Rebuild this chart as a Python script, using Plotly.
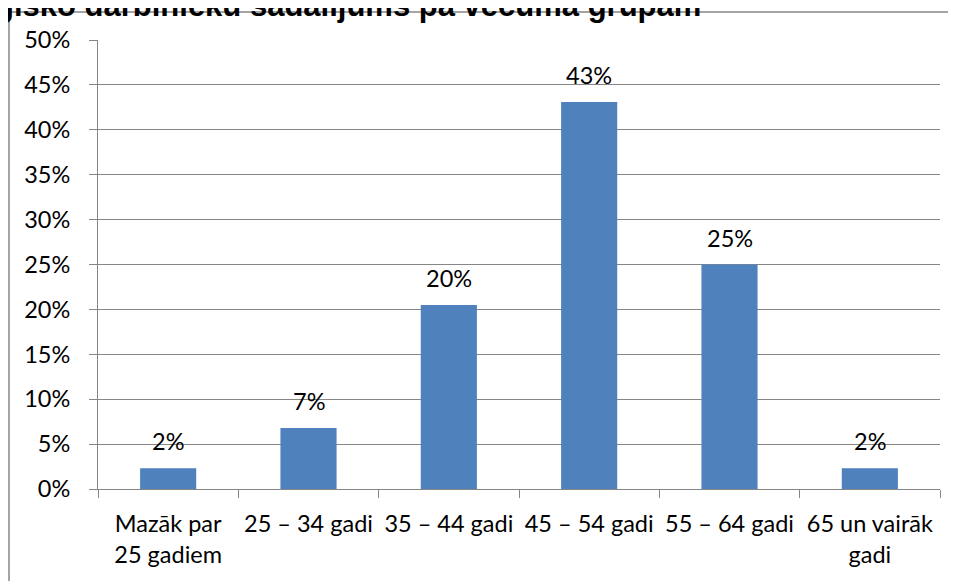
import plotly.graph_objects as go

# --- data ---
categories = [
    "Mazāk par<br>25 gadiem",
    "25 – 34 gadi",
    "35 – 44 gadi",
    "45 – 54 gadi",
    "55 – 64 gadi",
    "65 un vairāk<br>gadi",
]
shares_pct = [2.3, 6.8, 20.5, 43.1, 25.0, 2.3]
title_text = "Pedagoģisko darbinieku sadalījums pa vecuma grupām"

W, H = 956, 581
OFF = 8  # page body margin shifts the whole figure by 8px
# plot area in screen pixels: x 98..940, y 40..489
L, T = 98 - OFF, 40 - OFF
R = W - (940 - OFF)
B = H - (489 - OFF)
plot_w = W - L - R
plot_h = H - T - B
y_bottom = H - B  # figure-pixel y of the x axis

grid_col = "#868686"
bar_col = "#4F81BD"
font_family = "Lato, 'Open Sans', sans-serif"
fsize = 23.5

values = [v / 100 for v in shares_pct]

fig = go.Figure()
fig.add_trace(
    go.Bar(
        x=categories,
        y=values,
        marker=dict(color=bar_col, line=dict(width=0)),
        hoverinfo="skip",
        showlegend=False,
    )
)

# value labels sit a bit above each bar
for cat, v, pct in zip(categories, values, shares_pct):
    fig.add_annotation(
        x=cat,
        y=v,
        text=f"{round(pct)}%",
        showarrow=False,
        yshift=27,
        font=dict(family=font_family, size=fsize, color="#000000"),
    )

# chart title, partly cropped off the top-left like in the source
fig.add_annotation(
    xref="paper",
    yref="paper",
    x=(703 - OFF - L) / plot_w,
    y=(y_bottom - (25 - OFF)) / plot_h,
    xanchor="right",
    yanchor="bottom",
    text=f"<b>{title_text}</b>",
    showarrow=False,
    font=dict(family="Liberation Sans, Arial, sans-serif", size=31, color="#000000"),
)

# outer chart frame
fig.add_shape(
    type="rect",
    xref="paper",
    yref="paper",
    x0=(9 - OFF - L) / plot_w,
    x1=1.2,
    y0=-0.4,
    y1=(y_bottom - (12 - OFF)) / plot_h,
    line=dict(color=grid_col, width=1.5),
    fillcolor="rgba(0,0,0,0)",
    layer="below",
)

fig.update_layout(
    width=W,
    height=H,
    margin=dict(l=L, r=R, t=T, b=B),
    paper_bgcolor="white",
    plot_bgcolor="white",
    bargap=0.6,
    font=dict(family=font_family, size=fsize, color="#000000"),
    xaxis=dict(
        type="category",
        showline=True,
        linecolor=grid_col,
        linewidth=1,
        ticks="outside",
        tickson="boundaries",
        ticklen=8,
        tickcolor=grid_col,
        showgrid=False,
        ticklabelstandoff=14,
        tickfont=dict(size=fsize),
    ),
    yaxis=dict(
        range=[0, 0.5],
        dtick=0.05,
        tickformat=".0%",
        showline=True,
        linecolor=grid_col,
        linewidth=1,
        ticks="outside",
        ticklen=8,
        tickcolor=grid_col,
        showgrid=True,
        gridcolor=grid_col,
        gridwidth=1,
        zeroline=False,
        ticklabelstandoff=14,
        tickfont=dict(size=fsize),
    ),
)

fig.write_html("out.html")
